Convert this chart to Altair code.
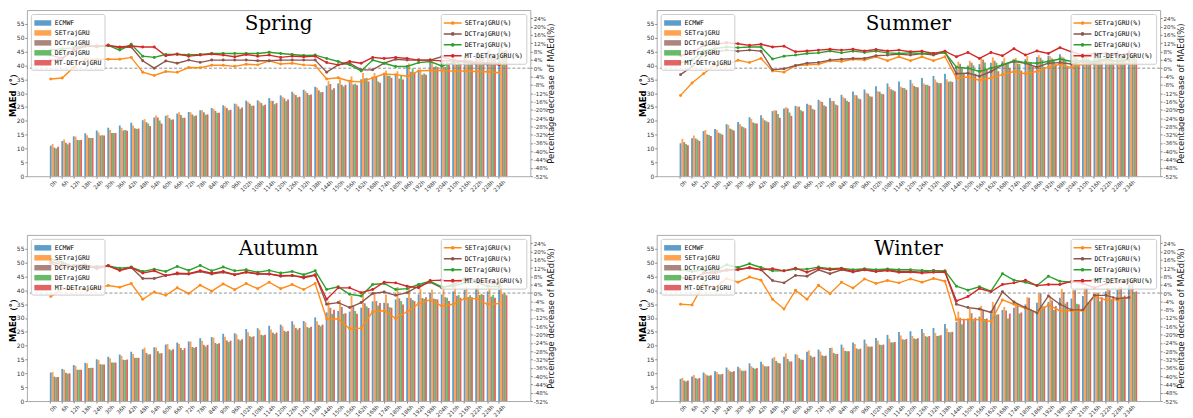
import altair as alt
import pandas as pd

HOURS = ["0h", "6h", "12h", "18h", "24h", "30h", "36h", "42h", "48h", "54h",
         "60h", "66h", "72h", "78h", "84h", "90h", "96h", "102h", "108h", "114h",
         "120h", "126h", "132h", "138h", "144h", "150h", "156h", "162h", "168h", "174h",
         "180h", "186h", "192h", "198h", "204h", "210h", "216h", "222h", "228h", "234h"]

SEASONS = ["Spring", "Summer", "Autumn", "Winter"]
BAR_MODELS = ["ECMWF", "SETrajGRU", "DCTrajGRU", "DETrajGRU", "MT-DETrajGRU"]
BAR_COLORS = ["#1f77b4", "#ff7f0e", "#8c564b", "#2ca02c", "#d62728"]
LINE_SERIES = ["SETrajGRU(%)", "DCTrajGRU(%)", "DETrajGRU(%)", "MT-DETrajGRU(%)"]
LINE_COLORS = ["#ff8c1a", "#8c564b", "#2ca02c", "#d62728"]

# ---------------- Spring ----------------
SPRING_ECMWF = [11.0, 12.7, 14.4, 15.5, 16.5, 17.5, 18.3, 19.3, 20.2, 21.2, 21.8, 22.6, 23.2, 23.8, 24.6, 25.6, 26.2, 27.3, 27.4, 28.2, 29.2, 30.5, 31.2, 32.3, 32.7, 33.5, 33.9, 35.0, 35.6, 37.2, 36.8, 39.2, 38.1, 41.0, 41.7, 42.0, 43.4, 44.5, 45.2, 46.3]
SPRING_SET = [11.6, 13.3, 14.3, 14.8, 15.8, 16.7, 17.5, 18.3, 20.6, 21.9, 22.1, 23.1, 23.1, 23.8, 24.3, 25.2, 26.0, 26.8, 27.0, 27.2, 28.6, 29.8, 30.7, 31.9, 34.4, 35.0, 36.0, 37.3, 37.3, 38.2, 37.9, 40.7, 38.6, 41.5, 42.2, 42.6, 44.0, 45.2, 46.0, 47.3]
SPRING_DCT = [10.3, 12.1, 13.1, 13.9, 14.7, 15.6, 16.5, 17.3, 19.5, 21.2, 21.0, 22.1, 22.3, 23.1, 23.6, 24.6, 25.2, 26.2, 26.4, 27.2, 28.1, 29.3, 30.0, 31.0, 33.3, 33.0, 33.1, 35.3, 35.9, 36.3, 35.2, 37.7, 36.6, 39.4, 39.4, 40.4, 42.0, 43.6, 44.3, 45.2]
SPRING_DET = [10.0, 11.5, 13.0, 13.8, 14.8, 15.6, 16.7, 17.1, 19.0, 20.1, 20.4, 21.1, 21.7, 22.2, 22.9, 23.8, 24.3, 25.4, 25.5, 26.0, 27.1, 28.5, 29.3, 30.3, 31.2, 32.4, 33.4, 35.5, 34.2, 36.3, 36.5, 38.9, 37.1, 39.7, 41.2, 40.9, 42.0, 43.3, 44.1, 45.2]
SPRING_MT = [10.6, 12.1, 13.1, 13.8, 14.7, 15.6, 16.4, 17.2, 18.1, 19.0, 20.5, 21.1, 21.9, 22.3, 22.9, 24.0, 24.8, 25.5, 25.8, 26.4, 27.7, 28.7, 29.5, 30.4, 31.8, 33.0, 32.8, 34.2, 33.7, 35.5, 34.9, 37.4, 36.6, 39.4, 40.2, 40.5, 42.0, 43.3, 44.1, 45.6]
SPRING_SET_PCT = [-5.2, -4.7, 0.5, 4.3, 4.3, 4.3, 4.3, 5.2, -1.9, -3.5, -1.6, -2.0, 0.3, 0.2, 1.4, 1.4, 0.9, 1.9, 1.6, 3.5, 2.0, 2.4, 1.6, 1.3, -5.2, -4.6, -6.3, -6.6, -4.7, -2.8, -3.1, -3.9, -1.3, -1.1, -1.1, -1.4, -1.4, -1.6, -1.7, -2.2]
SPRING_DCT_PCT = [6.3, 4.7, 8.7, 10.6, 10.7, 11.0, 9.8, 10.2, 3.6, 0.0, 3.5, 2.4, 3.9, 2.8, 3.9, 3.9, 3.9, 3.9, 3.6, 3.6, 3.9, 3.9, 3.9, 3.9, -1.9, 1.6, 2.4, -0.8, -0.8, 2.4, 4.3, 3.9, 3.9, 3.9, 5.5, 3.9, 3.2, 2.0, 1.9, 2.4]
SPRING_DET_PCT = [8.7, 9.4, 9.8, 11.0, 10.2, 11.0, 8.7, 11.5, 5.8, 5.2, 6.6, 6.6, 6.5, 6.6, 7.1, 7.1, 7.1, 7.1, 7.1, 7.7, 7.1, 6.6, 6.1, 6.3, 4.7, 3.2, 1.6, -1.3, 3.9, 2.4, 0.8, 0.8, 2.7, 3.2, 1.1, 2.7, 3.2, 2.7, 2.4, 2.4]
SPRING_MT_PCT = [3.6, 4.7, 8.7, 10.7, 10.7, 11.0, 10.2, 10.7, 10.2, 10.2, 6.0, 6.8, 5.8, 6.3, 6.8, 6.3, 5.5, 6.6, 5.8, 6.3, 5.2, 5.8, 5.5, 5.8, 2.7, 1.6, 3.2, 2.4, 5.2, 4.7, 5.2, 4.7, 3.9, 3.9, 3.5, 3.6, 3.2, 2.7, 2.4, 1.6]

# ---------------- Summer ----------------
SUMMER_ECMWF = [11.9, 13.7, 16.3, 17.0, 18.8, 19.6, 21.3, 22.0, 23.5, 24.4, 25.4, 26.2, 27.6, 28.2, 29.4, 30.6, 31.3, 32.5, 33.5, 34.2, 34.8, 35.5, 36.2, 37.0, 39.5, 40.0, 40.5, 41.0, 41.5, 42.0, 42.3, 43.0, 43.5, 44.0, 44.2, 44.5, 44.8, 45.0, 45.2, 45.5]
SUMMER_SET = [13.5, 14.7, 16.7, 16.7, 18.5, 18.9, 20.7, 21.0, 23.8, 24.9, 25.1, 25.8, 27.1, 27.2, 28.5, 29.3, 30.1, 30.7, 32.3, 32.3, 33.5, 33.5, 34.9, 35.0, 41.4, 41.7, 42.8, 42.9, 42.8, 42.7, 43.4, 43.7, 43.3, 43.2, 44.1, 43.7, 43.9, 43.6, 44.3, 44.4]
SUMMER_DCT = [12.3, 13.6, 15.1, 15.7, 17.2, 18.0, 19.4, 20.2, 23.7, 24.5, 25.1, 25.6, 26.8, 27.1, 28.1, 29.2, 29.8, 30.5, 31.4, 31.9, 32.6, 33.0, 33.9, 34.1, 40.6, 41.0, 42.1, 41.7, 40.8, 40.7, 41.3, 42.8, 42.5, 42.8, 43.3, 43.1, 43.7, 43.1, 43.8, 43.7]
SUMMER_DET = [11.6, 13.2, 14.9, 15.4, 16.9, 17.7, 19.1, 19.8, 22.5, 23.0, 23.8, 24.3, 25.6, 25.9, 27.2, 28.1, 28.9, 29.8, 31.0, 31.8, 32.2, 33.0, 33.6, 34.3, 39.3, 40.0, 41.1, 41.0, 40.8, 40.5, 41.2, 42.0, 42.1, 42.1, 42.8, 42.8, 43.4, 43.1, 43.8, 43.7]
SUMMER_MT = [11.2, 12.7, 14.5, 15.0, 16.5, 17.3, 19.0, 19.5, 21.1, 21.8, 23.4, 24.0, 25.2, 25.6, 26.8, 27.8, 28.7, 29.6, 30.7, 31.2, 32.1, 32.6, 33.6, 34.0, 37.3, 37.0, 38.6, 37.9, 39.0, 38.1, 39.6, 39.4, 40.4, 39.6, 40.7, 41.7, 41.6, 41.8, 42.4, 42.3]
SUMMER_SET_PCT = [-13.1, -7.1, -2.7, 1.6, 1.6, 3.8, 2.7, 4.7, -1.3, -1.9, 1.1, 1.6, 1.9, 3.5, 3.2, 4.3, 3.9, 5.5, 3.6, 5.5, 3.6, 5.5, 3.6, 5.5, -4.7, -4.3, -5.8, -4.7, -3.1, -1.6, -2.7, -1.6, 0.5, 1.9, 0.3, 1.9, 1.9, 3.2, 1.9, 2.4]
SUMMER_DCT_PCT = [-3.1, 0.8, 7.1, 7.9, 8.7, 8.2, 8.7, 8.2, -0.8, -0.3, 1.3, 2.4, 2.8, 3.9, 4.3, 4.7, 4.7, 6.0, 6.3, 6.8, 6.3, 7.1, 6.3, 7.9, -2.7, -2.4, -3.9, -1.6, 1.6, 3.2, 2.4, 0.5, 2.4, 2.7, 2.0, 3.2, 2.4, 4.3, 3.2, 3.9]
SUMMER_DET_PCT = [2.7, 3.9, 8.3, 9.4, 10.2, 9.9, 10.2, 10.2, 4.4, 5.8, 6.3, 7.1, 7.4, 8.3, 7.4, 8.2, 7.6, 8.2, 7.4, 7.1, 7.4, 7.1, 7.1, 7.4, 0.5, 0.0, -1.6, 0.0, 1.6, 3.6, 2.7, 2.4, 3.2, 4.4, 3.2, 3.9, 3.2, 4.3, 3.2, 3.9]
SUMMER_MT_PCT = [6.0, 7.4, 11.0, 11.5, 12.3, 11.8, 11.0, 11.5, 10.2, 10.6, 7.9, 8.3, 8.7, 9.1, 8.7, 9.1, 8.3, 9.0, 8.3, 8.7, 7.9, 8.2, 7.1, 8.2, 5.5, 7.6, 4.7, 7.6, 6.0, 9.4, 6.3, 8.3, 7.1, 9.9, 7.9, 6.3, 7.1, 7.1, 6.3, 7.1]

# ---------------- Autumn ----------------
AUTUMN_ECMWF = [10.3, 11.6, 13.0, 13.8, 15.1, 16.0, 16.8, 17.8, 18.7, 19.4, 20.4, 21.1, 21.5, 22.7, 23.1, 24.3, 24.5, 26.0, 26.3, 27.2, 27.6, 28.8, 28.9, 30.2, 32.0, 32.5, 32.3, 33.7, 36.0, 35.5, 36.7, 37.3, 38.5, 39.0, 38.5, 39.6, 40.2, 40.8, 39.6, 40.2]
AUTUMN_SET = [10.5, 11.3, 12.7, 13.6, 14.8, 15.4, 16.3, 17.0, 19.3, 19.3, 20.6, 20.6, 21.5, 21.8, 22.9, 23.2, 24.1, 24.8, 25.7, 25.8, 27.0, 27.6, 28.4, 28.8, 36.0, 36.6, 37.9, 39.4, 39.2, 38.5, 41.2, 40.7, 40.5, 40.3, 40.9, 41.7, 41.3, 41.9, 41.7, 42.3]
AUTUMN_DCT = [8.8, 10.2, 11.3, 11.9, 13.3, 13.9, 14.9, 15.6, 17.4, 18.0, 18.7, 19.2, 19.5, 20.3, 21.0, 21.9, 22.3, 23.4, 23.9, 24.7, 25.4, 26.4, 26.7, 27.5, 33.7, 34.0, 34.6, 35.3, 36.1, 35.3, 37.1, 37.2, 37.2, 37.0, 37.5, 38.0, 37.6, 38.3, 37.7, 38.6]
AUTUMN_DET = [8.6, 9.9, 11.3, 12.0, 13.2, 13.9, 14.8, 15.6, 16.8, 17.2, 18.3, 18.4, 19.2, 19.7, 20.6, 21.3, 21.9, 23.1, 23.7, 24.2, 25.0, 25.8, 26.4, 27.0, 31.5, 31.5, 32.5, 34.2, 34.5, 33.9, 36.1, 36.5, 36.9, 36.8, 37.3, 38.3, 38.2, 38.7, 38.3, 39.0]
AUTUMN_MT = [8.7, 10.0, 11.3, 12.0, 13.2, 13.9, 15.0, 15.6, 16.9, 17.3, 18.7, 19.1, 19.5, 20.3, 20.9, 21.8, 22.3, 23.4, 23.9, 24.7, 25.3, 26.4, 26.8, 27.6, 33.0, 31.7, 31.5, 33.6, 35.4, 33.7, 34.9, 36.1, 37.5, 36.7, 36.1, 37.3, 37.5, 38.3, 37.3, 38.2]
AUTUMN_SET_PCT = [-1.7, 2.2, 2.1, 1.7, 2.2, 3.6, 2.8, 4.6, -3.0, 0.5, -1.1, 2.5, -0.2, 3.8, 0.9, 4.4, 1.6, 4.6, 2.1, 5.2, 2.1, 4.1, 1.7, 4.6, -12.5, -12.5, -17.2, -16.9, -9.0, -8.5, -12.2, -9.0, -5.1, -3.3, -6.2, -5.4, -2.7, -2.7, -5.4, -5.1]
AUTUMN_DCT_PCT = [14.4, 12.0, 13.3, 13.6, 11.7, 13.1, 11.2, 12.3, 7.0, 7.0, 8.5, 9.2, 9.2, 10.4, 9.2, 10.0, 8.8, 10.0, 9.2, 9.2, 8.1, 8.4, 7.7, 8.8, -5.4, -4.6, -7.0, -4.6, -0.2, 0.5, -1.1, 0.2, 3.3, 5.2, 2.5, 4.1, 6.5, 6.2, 4.9, 4.1]
AUTUMN_DET_PCT = [16.3, 14.7, 12.8, 13.1, 12.8, 13.1, 12.0, 12.5, 10.4, 11.5, 10.4, 12.8, 10.9, 13.3, 10.7, 12.5, 10.7, 11.2, 10.0, 10.9, 9.6, 10.4, 8.8, 10.7, 1.7, 3.0, -0.6, -1.4, 4.1, 4.6, 1.7, 2.1, 4.1, 5.7, 3.0, 3.3, 4.9, 5.2, 3.3, 3.0]
AUTUMN_MT_PCT = [15.2, 13.6, 12.8, 12.8, 12.3, 13.1, 10.9, 12.3, 9.6, 10.7, 8.4, 9.6, 9.3, 10.7, 9.6, 10.4, 8.8, 10.1, 9.3, 9.2, 8.4, 8.5, 7.3, 8.5, -3.0, 2.5, 2.5, 0.2, 1.7, 5.2, 4.9, 3.3, 2.5, 6.0, 6.2, 5.7, 6.8, 6.2, 5.7, 4.9]

# ---------------- Winter ----------------
WINTER_ECMWF = [8.0, 8.9, 10.3, 10.8, 12.1, 12.4, 13.6, 14.2, 15.4, 16.0, 16.9, 17.8, 18.6, 19.2, 20.4, 21.1, 22.2, 22.8, 23.9, 24.9, 25.2, 26.0, 26.4, 27.8, 28.6, 29.6, 30.5, 31.5, 32.9, 33.7, 34.9, 35.5, 35.8, 37.3, 37.0, 37.9, 38.5, 39.6, 40.2, 42.0]
WINTER_SET = [8.4, 9.4, 9.8, 10.5, 11.3, 11.8, 12.6, 13.3, 15.9, 17.2, 16.7, 18.3, 17.9, 19.3, 19.3, 20.6, 20.7, 21.8, 22.5, 23.7, 23.5, 24.6, 24.6, 26.2, 32.3, 33.4, 34.4, 35.8, 34.0, 35.5, 37.5, 38.8, 37.9, 40.5, 40.1, 41.1, 39.2, 40.9, 41.5, 42.9]
WINTER_DCT = [7.4, 8.3, 9.3, 9.7, 10.7, 11.0, 12.0, 12.6, 14.5, 15.2, 15.5, 16.4, 16.5, 17.4, 18.1, 19.0, 19.7, 20.4, 21.2, 22.3, 22.6, 23.4, 23.5, 24.9, 30.1, 31.7, 32.8, 34.4, 32.7, 35.1, 37.3, 38.9, 36.3, 39.3, 40.0, 41.0, 38.9, 40.0, 41.3, 42.9]
WINTER_DET = [7.1, 8.0, 9.1, 9.6, 10.5, 10.9, 11.7, 12.5, 13.8, 14.3, 15.0, 15.8, 16.3, 17.0, 18.0, 18.7, 19.6, 20.2, 21.1, 22.1, 22.4, 23.2, 23.6, 24.8, 27.7, 29.2, 29.6, 31.2, 29.8, 31.6, 33.1, 34.2, 32.9, 35.2, 35.1, 35.7, 36.0, 36.9, 37.7, 39.3]
WINTER_MT = [7.4, 8.3, 9.3, 9.8, 10.8, 11.0, 11.9, 12.6, 13.6, 14.3, 14.9, 16.0, 16.4, 17.0, 18.0, 18.9, 19.7, 20.4, 21.3, 22.4, 22.7, 23.5, 23.8, 25.0, 29.7, 30.1, 29.8, 31.3, 31.6, 32.0, 32.7, 34.2, 34.3, 35.8, 34.9, 36.2, 37.5, 37.9, 38.1, 39.6]
WINTER_SET_PCT = [-5.4, -5.7, 4.4, 2.5, 7.0, 5.2, 7.7, 6.2, -3.0, -7.7, 1.3, -3.0, 3.8, -0.3, 5.2, 2.4, 6.8, 4.6, 6.0, 4.9, 6.8, 5.2, 7.0, 5.7, -12.8, -12.8, -12.8, -13.7, -3.3, -5.4, -7.4, -9.3, -5.8, -8.5, -8.5, -8.5, -1.7, -3.3, -3.3, -2.2]
WINTER_DCT_PCT = [7.6, 6.2, 9.6, 10.4, 11.2, 11.5, 12.0, 11.2, 6.0, 4.9, 8.5, 8.1, 11.2, 9.3, 11.2, 10.1, 11.2, 10.4, 11.2, 10.4, 10.4, 10.0, 10.9, 10.4, -5.4, -7.0, -7.7, -9.3, 0.6, -4.3, -7.0, -9.6, -1.4, -5.4, -8.1, -8.1, -1.1, -1.1, -2.7, -2.2]
WINTER_DET_PCT = [11.2, 10.4, 11.2, 10.7, 13.6, 12.3, 14.1, 12.3, 10.7, 10.7, 11.5, 11.5, 12.5, 11.7, 12.0, 11.2, 11.7, 11.2, 11.6, 11.2, 11.2, 10.9, 10.7, 10.7, 3.3, 1.4, 3.0, 0.9, 9.3, 6.2, 5.2, 3.6, 8.1, 5.7, 5.2, 5.7, 6.5, 6.8, 6.2, 6.5]
WINTER_MT_PCT = [7.6, 6.5, 9.6, 9.6, 10.9, 11.2, 12.3, 11.2, 11.7, 10.7, 12.0, 10.0, 12.0, 11.2, 11.7, 10.4, 11.2, 10.4, 10.8, 10.0, 10.1, 9.6, 10.0, 10.1, -3.8, -1.7, 2.2, 0.6, 4.1, 4.9, 6.2, 3.6, 4.1, 4.1, 5.7, 4.6, 2.5, 4.4, 5.2, 5.7]

LEFT_TICKS = [0, 5, 10, 15, 20, 25, 30, 35, 40, 45, 50, 55]
RIGHT_TICKS = [-52, -48, -44, -40, -36, -32, -28, -24, -20, -16, -12, -8, -4, 0, 4, 8, 12, 16, 20, 24]

W, H = 506, 167
X_RANGE = [11.5, 494.5]
FRAME = "#aaaaaa"
BAR_SYM = "M-1.7,-0.55H1.7V0.55H-1.7Z"
LINE_SYM = "M-1.8,0H1.8M-0.22,0A0.22,0.22 0 1,1 0.22,0A0.22,0.22 0 1,1 -0.22,0Z"


def right_axis():
    return alt.Axis(orient="right", title="Percentage decrease of MAEd(%)",
                    values=RIGHT_TICKS, labelExpr="datum.value + '%'",
                    labelFontSize=5.5, labelColor="#333333", tickSize=2,
                    tickColor="#888888", labelPadding=1, titleFontSize=8.5,
                    titleFontWeight="normal", titleColor="#222222",
                    titleAngle=270, titleBaseline="top", titlePadding=1,
                    domain=False, grid=False, minExtent=15, maxExtent=15)


def pct_scale():
    return alt.Scale(domain=[-52, 28], nice=False)


def make_panel(title, bar_lists, pct_lists):
    bar_rows = []
    for model, vals in zip(BAR_MODELS, bar_lists):
        for h, v in zip(HOURS, vals):
            bar_rows.append({"hour": h, "model": model, "value": v})
    line_rows = []
    for series, vals in zip(LINE_SERIES, pct_lists):
        for h, v in zip(HOURS, vals):
            line_rows.append({"hour": h, "series": series, "pct": v})
    bar_df = pd.DataFrame(bar_rows)
    line_df = pd.DataFrame(line_rows)

    x_axis = alt.Axis(title=None, labelAngle=315, labelFontSize=5.5, labelColor="#333333",
                      tickSize=2, tickColor="#888888", labelPadding=1, bandPosition=0.1,
                      labelOverlap=False, domain=False, minExtent=14, maxExtent=14)

    bars = alt.Chart(bar_df).mark_bar(opacity=0.72).encode(
        x=alt.X("hour:N", sort=HOURS,
                scale=alt.Scale(paddingInner=0.2, paddingOuter=1, range=X_RANGE), axis=x_axis),
        xOffset=alt.XOffset("model:N", sort=BAR_MODELS),
        y=alt.Y("value:Q", scale=alt.Scale(domain=[0, 60], nice=False),
                axis=alt.Axis(title="MAEd（°）", values=LEFT_TICKS, labelFontSize=6,
                              labelColor="#333333", tickSize=2, tickColor="#888888",
                              labelPadding=1, titleFontSize=8.5, titleFontWeight="bold",
                              titlePadding=0, domain=False, grid=False,
                              minExtent=9, maxExtent=9)),
        color=alt.Color("model:N", sort=BAR_MODELS,
                        scale=alt.Scale(domain=BAR_MODELS, range=BAR_COLORS),
                        legend=alt.Legend(title=None, orient="top-left", offset=4,
                                          fillColor="rgba(255,255,255,0.8)",
                                          strokeColor="#cccccc", cornerRadius=2, padding=3,
                                          labelFont="DejaVu Sans Mono", labelFontSize=6.5,
                                          symbolType=BAR_SYM, symbolSize=100, rowPadding=0,
                                          symbolOffset=3, labelOffset=6)),
    )

    rule = alt.Chart(pd.DataFrame({"zero": [0]})).mark_rule(
        strokeDash=[3, 2], color="#777777", strokeWidth=0.8
    ).encode(y=alt.Y("zero:Q", scale=pct_scale(), axis=right_axis()))

    lines = alt.Chart(line_df).mark_line(
        strokeWidth=1.4, point=alt.OverlayMarkDef(filled=True, size=9)
    ).encode(
        x=alt.X("hour:N", sort=HOURS, bandPosition=0.1),
        y=alt.Y("pct:Q", scale=pct_scale(), axis=right_axis()),
        color=alt.Color("series:N", sort=LINE_SERIES,
                        scale=alt.Scale(domain=LINE_SERIES, range=LINE_COLORS),
                        legend=alt.Legend(title=None, orient="top-right", offset=4,
                                          fillColor="rgba(255,255,255,0.8)",
                                          strokeColor="#cccccc", cornerRadius=2, padding=3,
                                          labelFont="DejaVu Sans Mono", labelFontSize=6.5,
                                          symbolType=LINE_SYM, symbolSize=100, rowPadding=0,
                                          symbolStrokeWidth=1.5, symbolOffset=3,
                                          labelOffset=6)),
    )

    text = alt.Chart(pd.DataFrame({"t": [title]})).mark_text(
        font="DejaVu Serif", fontSize=20, color="black", align="center", baseline="middle"
    ).encode(text="t:N", x=alt.value(W / 2), y=alt.value(14))

    return alt.layer(
        bars, alt.layer(rule, lines), text
    ).resolve_scale(y="independent", color="independent").resolve_legend(
        color="independent"
    ).properties(width=W, height=H)


spring = make_panel(SEASONS[0], [SPRING_ECMWF, SPRING_SET, SPRING_DCT, SPRING_DET, SPRING_MT],
                    [SPRING_SET_PCT, SPRING_DCT_PCT, SPRING_DET_PCT, SPRING_MT_PCT])
summer = make_panel(SEASONS[1], [SUMMER_ECMWF, SUMMER_SET, SUMMER_DCT, SUMMER_DET, SUMMER_MT],
                    [SUMMER_SET_PCT, SUMMER_DCT_PCT, SUMMER_DET_PCT, SUMMER_MT_PCT])
autumn = make_panel(SEASONS[2], [AUTUMN_ECMWF, AUTUMN_SET, AUTUMN_DCT, AUTUMN_DET, AUTUMN_MT],
                    [AUTUMN_SET_PCT, AUTUMN_DCT_PCT, AUTUMN_DET_PCT, AUTUMN_MT_PCT])
winter = make_panel(SEASONS[3], [WINTER_ECMWF, WINTER_SET, WINTER_DCT, WINTER_DET, WINTER_MT],
                    [WINTER_SET_PCT, WINTER_DCT_PCT, WINTER_DET_PCT, WINTER_MT_PCT])

row1 = alt.hconcat(spring, summer, spacing=83).resolve_scale(color="independent").resolve_legend(color="independent")
row2 = alt.hconcat(autumn, winter, spacing=83).resolve_scale(color="independent").resolve_legend(color="independent")

chart = alt.vconcat(row1, row2, spacing=40).resolve_scale(
    color="independent"
).resolve_legend(color="independent").properties(
    padding={"left": 0, "top": 0, "right": 0, "bottom": 0}
).configure_view(
    stroke=FRAME, strokeWidth=1
).configure_axis(
    labelFont="DejaVu Sans", titleFont="DejaVu Sans"
)

chart.save("out.html", embed_options={"renderer": "svg", "actions": False})
